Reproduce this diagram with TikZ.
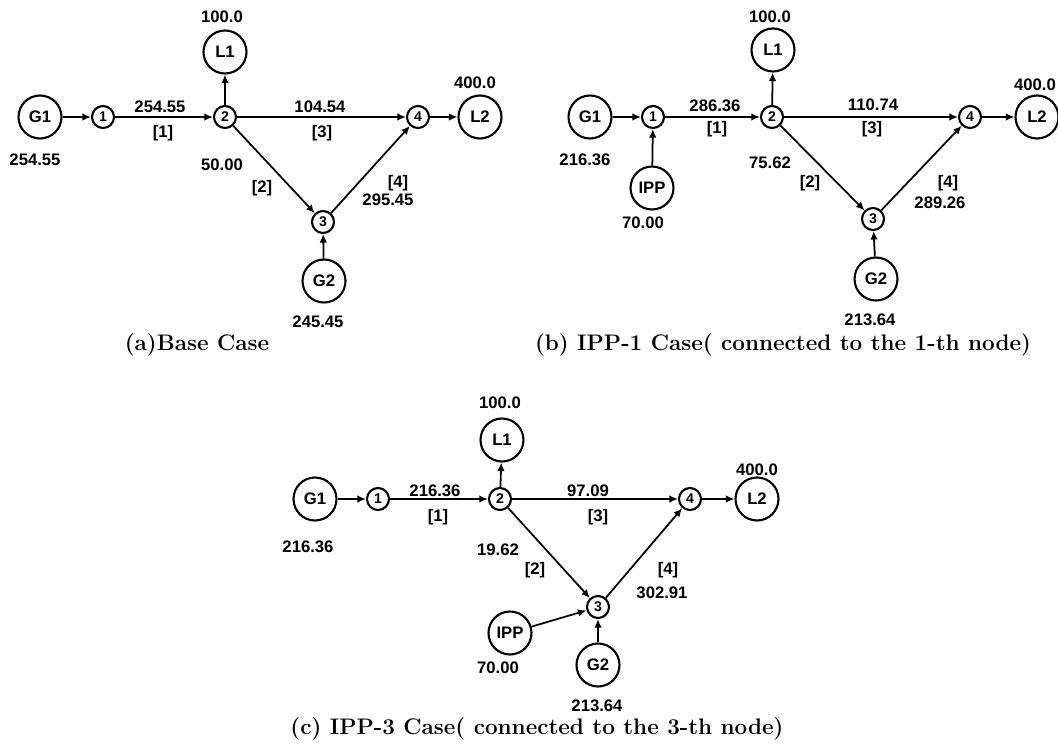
\documentclass[tikz,border=0pt]{standalone}
\usepackage{fontspec}
\setsansfont{Liberation Sans}
\usetikzlibrary{arrows.meta}
\tikzset{
  % barra (nó pequeno numerado)
  bus/.style={circle, draw, line width=1.2pt, minimum size=0.44cm, inner sep=0pt,
              font=\sffamily\bfseries\fontsize{8}{9}\selectfont},
  % gerador / carga
  unit/.style={circle, draw, line width=1.2pt, minimum size=0.86cm, inner sep=0pt,
               font=\sffamily\bfseries\fontsize{9.5}{10}\selectfont},
  val/.style={font=\sffamily\bfseries\fontsize{9.5}{11}\selectfont, inner sep=0pt},
  ln/.style={-{Latex[length=1.7mm,width=1.5mm]}, line width=1pt},
  cpt/.style={font=\bfseries\fontsize{12.8}{14}\selectfont, inner sep=0pt}
}
\begin{document}
\begin{tikzpicture}[x=0.02cm, y=-0.02cm]
  \useasboundingbox (0,0) rectangle (1058,750);

  % --- (a) caso base ---
  \node[unit] (a-g1) at (40,117) {G1};
  \node[bus]  (a-b1) at (103,117) {1};
  \node[bus]  (a-b2) at (225,117) {2};
  \node[unit] (a-l1) at (225,52) {L1};
  \node[bus]  (a-b4) at (418,117) {4};
  \node[unit] (a-l2) at (480,117) {L2};
  \node[bus]  (a-b3) at (323,222) {3};
  \node[unit] (a-g2) at (324,281) {G2};
  \draw[ln] (a-g1) -- (a-b1);
  \draw[ln] (a-b1) -- (a-b2);
  \draw[ln] (a-b2) -- (a-l1);
  \draw[ln] (a-b2) -- (a-b4);
  \draw[ln] (a-b2) -- (a-b3);
  \draw[ln] (a-b3) -- (a-b4);
  \draw[ln] (a-b4) -- (a-l2);
  \draw[ln] (a-g2) -- (a-b3);
  \node[val] (a-pl1) at (222,17) {100.0};
  \node[val] (a-f1)  at (160,107) {254.55};
  \node[val] (a-k1)  at (163,133) {[1]};
  \node[val] (a-pg1) at (35,160) {254.55};
  \node[val] (a-f3)  at (320,107) {104.54};
  \node[val] (a-k3)  at (322,133) {[3]};
  \node[val] (a-f2)  at (222,165) {50.00};
  \node[val] (a-k2)  at (262,188) {[2]};
  \node[val] (a-k4)  at (398,183) {[4]};
  \node[val] (a-f4)  at (388,200) {295.45};
  \node[val] (a-pl2) at (475,83) {400.0};
  \node[val] (a-pg2) at (318,322) {245.45};
  \node[cpt] (a-cap) at (197,345) {(a)Base Case};

  % --- (b) IPP na barra 1 ---
  \node[unit] (b-g1)  at (590,117) {G1};
  \node[bus]  (b-b1)  at (653,117) {1};
  \node[unit] (b-ipp) at (652,188) {IPP};
  \node[bus]  (b-b2)  at (772,117) {2};
  \node[unit] (b-l1)  at (773,50) {L1};
  \node[bus]  (b-b4)  at (970,117) {4};
  \node[unit] (b-l2)  at (1037,117) {L2};
  \node[bus]  (b-b3)  at (873,219) {3};
  \node[unit] (b-g2)  at (876,279) {G2};
  \draw[ln] (b-g1) -- (b-b1);
  \draw[ln] (b-ipp) -- (b-b1);
  \draw[ln] (b-b1) -- (b-b2);
  \draw[ln] (b-b2) -- (b-l1);
  \draw[ln] (b-b2) -- (b-b4);
  \draw[ln] (b-b2) -- (b-b3);
  \draw[ln] (b-b3) -- (b-b4);
  \draw[ln] (b-b4) -- (b-l2);
  \draw[ln] (b-g2) -- (b-b3);
  \node[val] (b-pl1) at (770,17) {100.0};
  \node[val] (b-f1)  at (715,106) {286.36};
  \node[val] (b-k1)  at (717,129) {[1]};
  \node[val] (b-pg1) at (585,160) {216.36};
  \node[val] (b-pip) at (643,223) {70.00};
  \node[val] (b-f3)  at (873,105) {110.74};
  \node[val] (b-k3)  at (872,129) {[3]};
  \node[val] (b-pl2) at (1035,85) {400.0};
  \node[val] (b-f2)  at (770,163) {75.62};
  \node[val] (b-k2)  at (810,183) {[2]};
  \node[val] (b-k4)  at (948,183) {[4]};
  \node[val] (b-f4)  at (940,203) {289.26};
  \node[val] (b-pg2) at (870,320) {213.64};
  \node[cpt] (b-cap) at (783,345) {(b) IPP-1 Case( connected to the 1-th node)};

  % --- (c) IPP na barra 3 ---
  \node[unit] (c-g1)  at (315,499) {G1};
  \node[bus]  (c-b1)  at (378,499) {1};
  \node[bus]  (c-b2)  at (500,499) {2};
  \node[unit] (c-l1)  at (502,440) {L1};
  \node[bus]  (c-b4)  at (690,499) {4};
  \node[unit] (c-l2)  at (757,499) {L2};
  \node[bus]  (c-b3)  at (598,607) {3};
  \node[unit] (c-ipp) at (510,633) {IPP};
  \node[unit] (c-g2)  at (598,665) {G2};
  \draw[ln] (c-g1) -- (c-b1);
  \draw[ln] (c-b1) -- (c-b2);
  \draw[ln] (c-b2) -- (c-l1);
  \draw[ln] (c-b2) -- (c-b4);
  \draw[ln] (c-b2) -- (c-b3);
  \draw[ln] (c-b3) -- (c-b4);
  \draw[ln] (c-b4) -- (c-l2);
  \draw[ln] (c-ipp) -- (c-b3);
  \draw[ln] (c-g2) -- (c-b3);
  \node[val] (c-pl1) at (500,403) {100.0};
  \node[val] (c-f1)  at (435,491) {216.36};
  \node[val] (c-k1)  at (438,517) {[1]};
  \node[val] (c-pg1) at (308,547) {216.36};
  \node[val] (c-f3)  at (588,491) {97.09};
  \node[val] (c-k3)  at (598,517) {[3]};
  \node[val] (c-pl2) at (757,470) {400.0};
  \node[val] (c-f2)  at (498,550) {19.62};
  \node[val] (c-k2)  at (535,570) {[2]};
  \node[val] (c-k4)  at (668,570) {[4]};
  \node[val] (c-f4)  at (662,593) {302.91};
  \node[val] (c-pip) at (498,668) {70.00};
  \node[val] (c-pg2) at (597,706) {213.64};
  \node[cpt] (c-cap) at (537,729) {(c) IPP-3 Case( connected to the 3-th node)};
\end{tikzpicture}
\end{document}
